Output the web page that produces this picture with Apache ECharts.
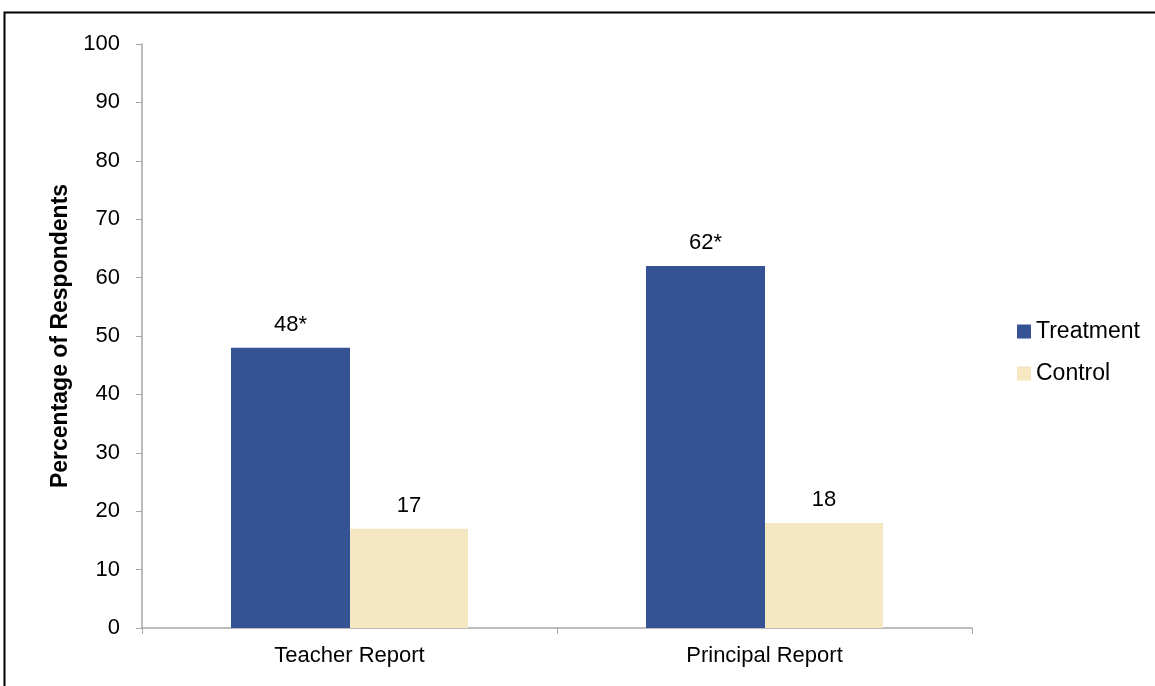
<!DOCTYPE html>
<html>
<head>
<meta charset="utf-8">
<script src="https://cdn.jsdelivr.net/npm/echarts@6/dist/echarts.min.js"></script>
<style>
  html, body { margin: 0; padding: 0; background: #fff; }
  #chart { width: 1155px; height: 686px; }
</style>
</head>
<body>
<div id="chart"></div>
<script>
// categories and values
const categories = ["Teacher Report", "Principal Report"];
const treatment = [48, 62];
const control = [17, 18];
const treatmentLabels = ["48*", "62*"];
const controlLabels = ["17", "18"];
const yTicks = { min: 0, max: 100, interval: 10 };

const font = "Liberation Sans, Arial, sans-serif";
const chart = echarts.init(document.getElementById("chart"));

// shared label look for bar values
const valueLabel = (texts) => ({
  show: true,
  position: "top",
  distance: 12,
  fontFamily: font,
  fontSize: 22,
  color: "#000",
  formatter: (p) => texts[p.dataIndex],
});

chart.setOption({
  animation: false,
  backgroundColor: "#fff",
  graphic: [
    {
      type: "rect",
      shape: { x: 4.5, y: 12.5, width: 1160, height: 700 },
      style: { fill: "none", stroke: "#000", lineWidth: 2 },
    },
  ],
  legend: {
    orient: "vertical",
    left: 1012,
    top: 315,
    itemWidth: 14,
    itemHeight: 14,
    itemGap: 19,
    icon: "rect",
    textStyle: { fontFamily: font, fontSize: 23, color: "#000" },
    data: ["Treatment", "Control"],
  },
  grid: { left: 142, right: 183, top: 44, bottom: 58, containLabel: false },
  xAxis: {
    type: "category",
    data: categories,
    axisLine: { lineStyle: { color: "#a6a6a6", width: 1.5 } },
    axisTick: { show: true, length: 6, lineStyle: { color: "#a6a6a6" } },
    axisLabel: { fontFamily: font, fontSize: 22, color: "#000", margin: 17 },
  },
  yAxis: {
    type: "value",
    min: yTicks.min,
    max: yTicks.max,
    interval: yTicks.interval,
    name: "Percentage of Respondents",
    nameLocation: "middle",
    nameGap: 70,
    nameTextStyle: { fontFamily: font, fontSize: 23, fontWeight: "bold", color: "#000" },
    axisLine: { show: true, lineStyle: { color: "#a6a6a6", width: 1.5 } },
    axisTick: { show: true, length: 6, lineStyle: { color: "#a6a6a6" } },
    axisLabel: { fontFamily: font, fontSize: 22, color: "#000", margin: 22 },
    splitLine: { show: false },
  },
  series: [
    {
      name: "Treatment",
      type: "bar",
      data: treatment,
      barWidth: 119,
      barGap: "0%",
      itemStyle: { color: "#355294" },
      label: valueLabel(treatmentLabels),
    },
    {
      name: "Control",
      type: "bar",
      data: control,
      barWidth: 118,
      barGap: "0%",
      itemStyle: { color: "#f5e7c1" },
      label: valueLabel(controlLabels),
    },
  ],
});
</script>
</body>
</html>
